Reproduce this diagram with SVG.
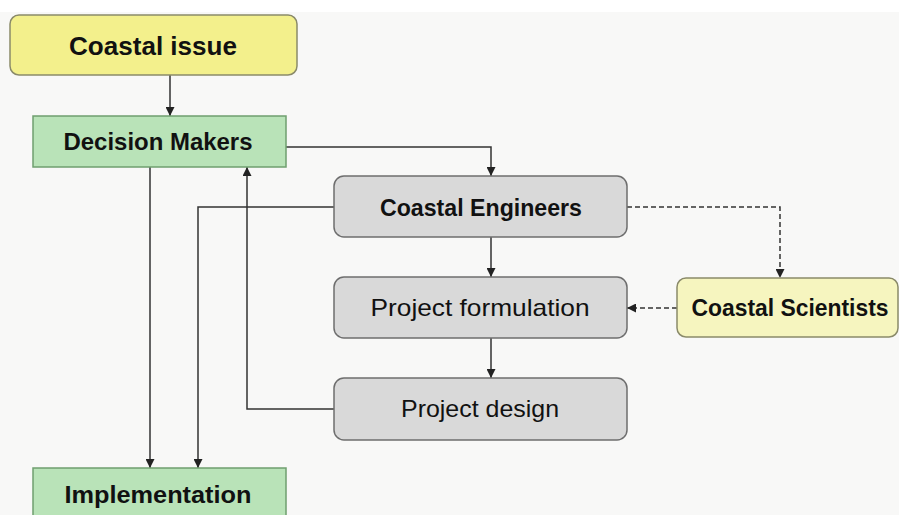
<svg xmlns="http://www.w3.org/2000/svg" width="899" height="515" viewBox="0 0 899 515">
<style>
.t{font-family:"Liberation Sans",Arial,sans-serif;font-size:24px;fill:#111;text-anchor:middle}
.b{font-weight:bold}
.gray{fill:#d9d9d9;stroke:#6e6e6e;stroke-width:1.5}
.green{fill:#b9e3b8;stroke:#6f9f6f;stroke-width:1.5}
.yel{fill:#f3f08c;stroke:#8a8a6a;stroke-width:1.5}
.yel2{fill:#f6f5bf;stroke:#8a8a6a;stroke-width:1.5}
.ln{fill:none;stroke:#333;stroke-width:1.5}
.dash{fill:none;stroke:#333;stroke-width:1.5;stroke-dasharray:5 3}
</style>
<defs>
<marker id="ah" viewBox="0 0 10 10" refX="10" refY="5" markerWidth="9" markerHeight="9" orient="auto" markerUnits="userSpaceOnUse">
<path d="M0,0 L10,5 L0,10 z" fill="#222"/>
</marker>
</defs>
<rect width="899" height="515" fill="#f8f8f7"/>
<rect width="899" height="12" fill="#ffffff"/>
<g id="connectors">
<path class="ln" d="M170,75 V116" marker-end="url(#ah)"/>
<path class="ln" d="M286,147 H491 V176" marker-end="url(#ah)"/>
<path class="ln" d="M150,167 V468" marker-end="url(#ah)"/>
<path class="ln" d="M334,207 H198 V468" marker-end="url(#ah)"/>
<path class="ln" d="M334,409 H247 V167" marker-end="url(#ah)"/>
<path class="ln" d="M491,237 V277" marker-end="url(#ah)"/>
<path class="ln" d="M491,338 V378" marker-end="url(#ah)"/>
<path class="dash" d="M627,207 H780 V278" marker-end="url(#ah)"/>
<path class="dash" d="M677,308 H627" marker-end="url(#ah)"/>
</g>
<g id="coastal-issue">
<rect class="yel" x="10" y="15" width="287" height="60" rx="9"/>
<text class="t b" x="153" y="55" textLength="168" lengthAdjust="spacingAndGlyphs" style="font-size:26px">Coastal issue</text>
</g>
<g id="decision-makers">
<rect class="green" x="33" y="116" width="253" height="51"/>
<text class="t b" x="158" y="150" textLength="189" lengthAdjust="spacingAndGlyphs">Decision Makers</text>
</g>
<g id="coastal-engineers">
<rect class="gray" x="334" y="176" width="293" height="61" rx="10"/>
<text class="t b" x="481" y="216" textLength="202" lengthAdjust="spacingAndGlyphs">Coastal Engineers</text>
</g>
<g id="project-formulation">
<rect class="gray" x="334" y="277" width="293" height="61" rx="10"/>
<text class="t" x="480" y="316" textLength="219" lengthAdjust="spacingAndGlyphs">Project formulation</text>
</g>
<g id="project-design">
<rect class="gray" x="334" y="378" width="293" height="62" rx="10"/>
<text class="t" x="480" y="417" textLength="158" lengthAdjust="spacingAndGlyphs">Project design</text>
</g>
<g id="coastal-scientists">
<rect class="yel2" x="677" y="278" width="221" height="59" rx="9"/>
<text class="t b" x="790" y="316" textLength="197" lengthAdjust="spacingAndGlyphs">Coastal Scientists</text>
</g>
<g id="implementation">
<rect class="green" x="33" y="468" width="253" height="60"/>
<text class="t b" x="158" y="503" textLength="187" lengthAdjust="spacingAndGlyphs">Implementation</text>
</g>
</svg>
